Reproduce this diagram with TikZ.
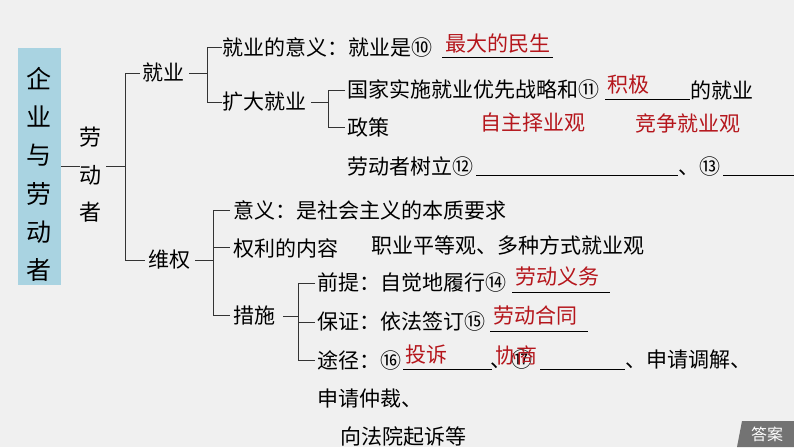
\documentclass[tikz,border=0pt]{standalone}
\usepackage{fontspec}
\setmainfont{Noto Sans CJK SC}
\definecolor{bg}{HTML}{F0F0F0}
\definecolor{ans}{HTML}{B5161C}
\definecolor{boxb}{HTML}{A9D3E1}
\begin{document}
\begin{tikzpicture}[x=1pt,y=-1pt,
  t/.style={anchor=west,inner sep=0pt,font=\fontsize{21}{21}\selectfont},
  r/.style={t,text=ans},
  ln/.style={line width=0.7pt,draw=black!80},
  ul/.style={line width=0.8pt,draw=black}]
\fill[bg] (0,0) rectangle (794,447);
\useasboundingbox (0,0) rectangle (794,447);
\fill[boxb] (18,48) rectangle (61,285);
\foreach \c [count=\i] in {企,业,与,劳,动,者}
  \node[font=\fontsize{25}{25}\selectfont,inner sep=0pt] at (39.5,{40+\i*38.4}) {\c};
\foreach \c [count=\i] in {劳,动,者}
  \node[font=\fontsize{22}{22}\selectfont,inner sep=0pt] (ld\i) at (90,{100+\i*37.5}) {\c};
\draw[ln] (61,166) -- (80,166);
\draw[ln] (106,166) -- (125,166);
\draw[ln] (140,73) -- (125,73) -- (125,260) -- (145,260);
\node[t] (jy) at (142,73) {就业};
\node[t] (wq) at (148,260) {维权};
\draw[ln] (189,73) -- (207,73);
\draw[ln] (222,47) -- (207,47) -- (207,102) -- (222,102);
\node[t] (yy) at (222,47) {就业的意义：就业是⑩};
\node[r] at (445,44) {最大的民生};
\draw[ul] (442,57) -- (553,57);
\node[t] (kd) at (222,102) {扩大就业};
\draw[ln] (311,102) -- (328,102);
\draw[ln] (345,90) -- (328,90) -- (328,127) -- (345,127);
\node[t] at (347,90) {国家实施就业优先战略和⑪};
\node[r] at (607,85) {积极};
\draw[ul] (605,99) -- (690,99);
\node[t] at (690,90) {的就业};
\node[t] at (347,127) {政策};
\node[r] at (480,123) {自主择业观};
\node[r] at (635,123) {竞争就业观};
\node[t] at (347,167) {劳动者树立⑫};
\draw[ul] (476,175) -- (678,175);
\node[t] at (678,167) {、⑬};
\draw[ul] (723,175) -- (794,175);
\draw[ln] (195,260) -- (213,260);
\draw[ln] (230,210) -- (213,210) -- (213,315) -- (230,315);
\draw[ln] (213,247) -- (230,247);
\node[t] at (233,210) {意义：是社会主义的本质要求};
\node[t] at (233,248) {权利的内容};
\node[t] at (371,245) {职业平等观、多种方式就业观};
\node[t] (cs) at (233,316) {措施};
\draw[ln] (283,316) -- (298,316);
\draw[ln] (315,283) -- (298,283) -- (298,360) -- (315,360);
\draw[ln] (298,322) -- (315,322);
\node[t] at (317,283) {前提：自觉地履行⑭};
\node[r] at (515,276) {劳动义务};
\draw[ul] (512,292) -- (610,292);
\node[t] at (317,322) {保证：依法签订⑮};
\node[r] at (493,316) {劳动合同};
\draw[ul] (490,331) -- (588,331);
\node[t] at (317,360) {途径：⑯};
\node[r] at (405,355) {投诉};
\draw[ul] (403,369) -- (492,369);
\node[t] at (490,360) {、⑰};
\node[r] at (495,355) {协商};
\draw[ul] (540,369) -- (625,369);
\node[t] at (625,360) {、申请调解、};
\node[t] at (317,399) {申请仲裁、};
\node[t] at (340,437) {向法院起诉等};
\fill[black!55] (742,421) -- (794,421) -- (794,447) -- (737,447) -- cycle;
\node[text=white,font=\fontsize{16}{16}\selectfont,inner sep=0pt] at (767,434) {答案};
\end{tikzpicture}
\end{document}
